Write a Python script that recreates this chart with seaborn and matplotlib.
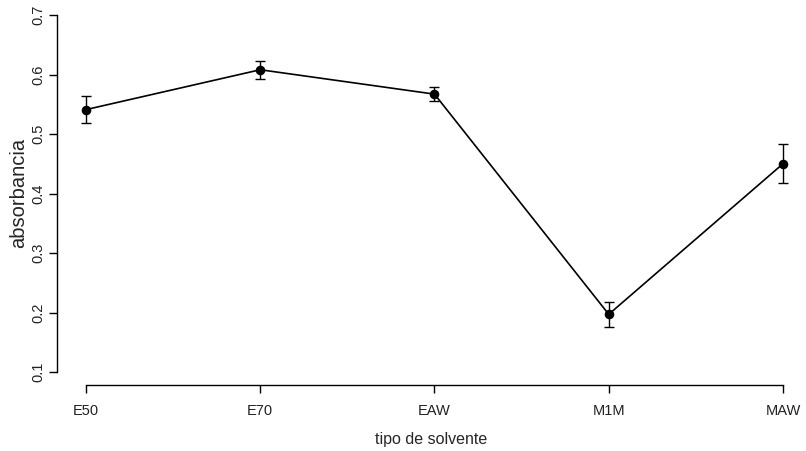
import numpy as np
import pandas as pd
import matplotlib
matplotlib.use("Agg")
import matplotlib.pyplot as plt
import seaborn as sns

# Data
solvents = ["E50", "E70", "EAW", "M1M", "MAW"]
absorbance = [0.541, 0.608, 0.567, 0.197, 0.450]
std_err = [0.023, 0.015, 0.012, 0.021, 0.033]
y_ticks = [0.1, 0.2, 0.3, 0.4, 0.5, 0.6, 0.7]

sns.set_theme(style="white")
plt.rcParams["font.family"] = ["Liberation Sans", "DejaVu Sans"]

W, H = 806, 451
fig = plt.figure(figsize=(W / 100, H / 100), dpi=100)
left, right, bottom, top = 57, 806, 385, 0
ax = fig.add_axes([left / W, (H - bottom) / H, (right - left) / W, (bottom - top) / H])

df = pd.DataFrame({"solvente": solvents, "absorbancia": absorbance})
sns.pointplot(data=df, x="solvente", y="absorbancia", color="black",
              errorbar=None, markers="o", linestyles="-", ax=ax,
              markersize=6, linewidth=1.2)
pos = np.arange(len(solvents))
ax.errorbar(pos, absorbance, yerr=std_err, fmt="none", ecolor="black",
            elinewidth=1.0, capsize=3.5, capthick=1.0, zorder=1)

ax.set_xlim(-0.1664, 4.132)
ax.set_ylim(0.0782, 0.7252)
ax.set_yticks(y_ticks)
ax.set_yticklabels([f"{v:.1f}" for v in y_ticks], rotation=90, va="center",
                   fontsize=10.5, color="#222222")
ax.set_xticks(pos)
ax.set_xticklabels(solvents, fontsize=10.5,
                   family=["Liberation Sans Narrow", "Liberation Sans"], color="#222222")

for s in ["top", "right"]:
    ax.spines[s].set_visible(False)
ax.spines["left"].set_bounds(0.1, 0.7)
ax.spines["bottom"].set_bounds(0, 4)
for s in ["left", "bottom"]:
    ax.spines[s].set_color("black")
    ax.spines[s].set_linewidth(1.0)
ax.tick_params(axis="both", which="major", direction="out", length=5.5,
               width=1.0, color="black", left=True, bottom=True)
ax.tick_params(axis="y", pad=3)
ax.tick_params(axis="x", pad=8)
ax.grid(False)

ax.set_xlabel("tipo de solvente", fontsize=11.5,
              family=["Liberation Sans Narrow", "Liberation Sans"], labelpad=10)
ax.set_ylabel("absorbancia", fontsize=14.5, labelpad=2)

fig.savefig("out.png", dpi=100, facecolor="white")
